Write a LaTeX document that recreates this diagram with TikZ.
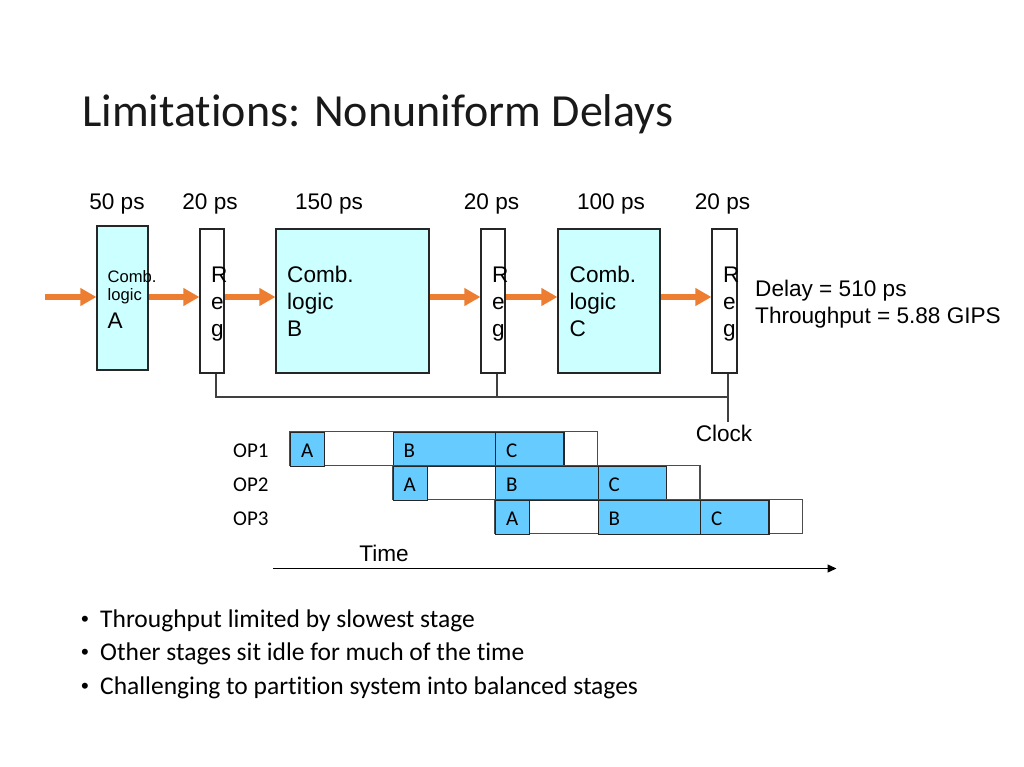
\documentclass[tikz,border=0pt]{standalone}
\usepackage{fontspec}
\setmainfont{Carlito}[Ligatures={NoCommon}]
\newfontfamily\arial{Liberation Sans}
\usetikzlibrary{arrows.meta,calc}
\definecolor{combfill}{HTML}{CCFFFF}
\definecolor{cellblue}{HTML}{66CCFF}
\definecolor{arrorange}{HTML}{ED7D31}
\definecolor{wiregray}{HTML}{404040}
\begin{document}
\begin{tikzpicture}[x=1pt,y=-1pt,
  box/.style={draw=black!85, line width=1.2pt, inner sep=0pt, anchor=center},
  comb/.style={box, fill=combfill},
  regbox/.style={box, fill=white, minimum height=144},
  flow/.style={draw=arrorange, line width=5.5pt, -{Triangle[length=16pt,width=17pt,fill=arrorange]}},
  wire/.style={draw=wiregray, line width=1.3pt},
  lbl/.style={font=\arial\fontsize{22.6}{26}\selectfont, inner sep=0pt, anchor=base},
  lblw/.style={lbl, anchor=base west},
  smalllbl/.style={font=\arial\fontsize{16.6}{20}\selectfont, inner sep=0pt, anchor=base west},
  oplbl/.style={font=\fontsize{21}{25}\selectfont, inner sep=0pt, anchor=base west},
  cell/.style={draw=black!85, line width=1.2pt, fill=cellblue, inner sep=0pt, minimum height=34, anchor=north west},
  rowline/.style={draw=black!70, line width=1.1pt},
  bullet/.style={font=\fontsize{25.5}{30}\selectfont, inner sep=0pt, anchor=base west},
  bulletdot/.style={font=\arial\fontsize{22}{26}\selectfont, inner sep=0pt, anchor=base west}
]
\useasboundingbox (0,0) rectangle (1024,767);

% title
\node[font=\fontsize{46}{54}\selectfont, text=black!90, inner sep=0pt, anchor=base west] (title) at (82,127) {Limitations: Nonuniform Delays};

% delay labels
\node[lbl] (h1) at (117,210) {50 ps};
\node[lbl] (h2) at (210,210) {20 ps};
\node[lbl] (h3) at (329,210) {150 ps};
\node[lbl] (h4) at (491.5,210) {20 ps};
\node[lbl] (h5) at (611,210) {100 ps};
\node[lbl] (h6) at (722.5,210) {20 ps};

% blocks
\node[comb, minimum width=51, minimum height=144] (ca) at (122.5,298) {};
\node[regbox, minimum width=24] (r1) at (212,301) {};
\node[comb, minimum width=153, minimum height=144] (cb) at (352.5,301) {};
\node[regbox, minimum width=24] (r2) at (493,301) {};
\node[comb, minimum width=102, minimum height=144] (cc) at (609,301) {};
\node[regbox, minimum width=25] (r3) at (724.5,301) {};

% block texts
\node[smalllbl] (ca1) at (107.5,282) {Comb.};
\node[smalllbl] (ca2) at (107.5,300) {logic};
\node[lblw] (ca3) at (107.5,328) {A};
\node[lblw] (cb1) at (287,282) {Comb.};
\node[lblw] (cb2) at (287,309) {logic};
\node[lblw] (cb3) at (287,336) {B};
\node[lblw] (cc1) at (569.5,282) {Comb.};
\node[lblw] (cc2) at (569.5,309) {logic};
\node[lblw] (cc3) at (569.5,336) {C};
\foreach \n/\x in {1/211,2/492,3/723}{
  \node[lblw] (r\n a) at (\x,282) {R};
  \node[lblw] (r\n b) at (\x,309) {e};
  \node[lblw] (r\n c) at (\x,336) {g};
}

% flow arrows
\coordinate (in) at (45,297);
\draw[flow] (in) -- (in -| ca.west);
\draw[flow] (ca.east |- in) -- (r1.west |- in);
\draw[flow] (r1.east |- in) -- (cb.west |- in);
\draw[flow] (cb.east |- in) -- (r2.west |- in);
\draw[flow] (r2.east |- in) -- (cc.west |- in);
\draw[flow] (cc.east |- in) -- (r3.west |- in);

% clock wiring
\coordinate (t1) at ($(r1.south)+(4,0)$);
\coordinate (t2) at ($(r2.south)+(4,0)$);
\coordinate (t3) at ($(r3.south)+(3.5,0)$);
\coordinate (busy) at (0,397);
\coordinate (clkend) at (728,422);
\draw[wire] (t1) |- (t3 |- busy);
\draw[wire] (t2) -- (t2 |- busy);
\draw[wire] (t3) -- (clkend);
\node[lbl] (clock) at (724,441) {Clock};

% delay / throughput
\node[lblw] (delay) at (755,296) {Delay = 510 ps};
\node[lblw] (thru) at (755,323) {Throughput = 5.88 GIPS};

% timing diagram
\node[oplbl] (op1) at (233,457) {OP1};
\node[oplbl] (op2) at (233,491) {OP2};
\node[oplbl] (op3) at (233,525) {OP3};
\foreach \r/\s in {1/290,2/392.5,3/495}{
  \pgfmathsetmacro\rowtop{431.7+34*(\r-1)}
  \draw[rowline] (\s,\rowtop) rectangle ++(307.5,34);
  \node[cell, minimum width=34] (a\r) at (\s,\rowtop) {};
  \node[cell, minimum width=102.5] (b\r) at (\s+102.5,\rowtop) {};
  \node[cell, minimum width=68.3] (c\r) at (\s+205,\rowtop) {};
  \node[oplbl] (la\r) at ($(a\r.west)+(11,8)$) {A};
  \node[oplbl] (lb\r) at ($(b\r.west)+(11,8)$) {B};
  \node[oplbl] (lc\r) at ($(c\r.west)+(11,8)$) {C};
}

% time axis
\node[lbl] (time) at (384,561) {Time};
\coordinate (ts) at (273,568.5);
\coordinate (te) at (836.5,568.5);
\draw[line width=1.3pt, -{Triangle[length=9pt,width=8pt]}] (ts) -- (te);

% bullets
\node[bulletdot] (b1d) at (81,626) {•};
\node[bullet] (b1) at (100,627) {Throughput limited by slowest stage};
\node[bulletdot] (b2d) at (81,659.5) {•};
\node[bullet] (b2) at (100,660.5) {Other stages sit idle for much of the time};
\node[bulletdot] (b3d) at (81,693) {•};
\node[bullet] (b3) at (100,694) {Challenging to partition system into balanced stages};
\end{tikzpicture}
\end{document}
